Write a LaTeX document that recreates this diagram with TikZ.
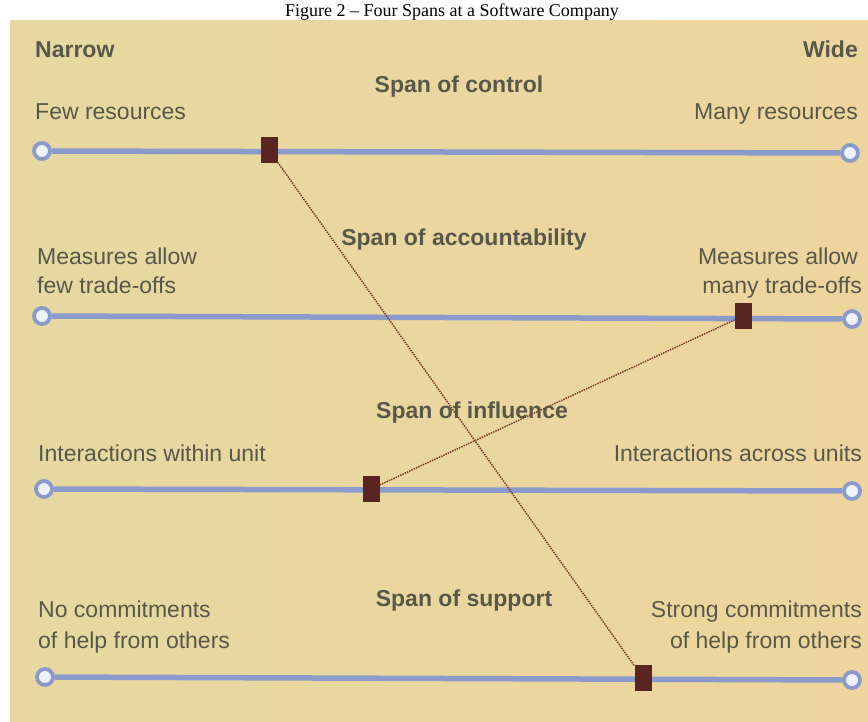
\documentclass[tikz,border=0pt]{standalone}
\usepackage{fontspec}
\setmainfont{Liberation Sans}
\newfontfamily\titlefont{Liberation Serif}
\definecolor{panelL}{HTML}{E6D8A0}
\definecolor{panelR}{HTML}{EED59E}
\definecolor{trackc}{HTML}{8A9BCB}
\definecolor{dotc}{HTML}{EEF2FF}
\definecolor{markc}{HTML}{5A2420}
\definecolor{connc}{HTML}{80402F}
\definecolor{txtc}{HTML}{58584A}
\tikzset{
  lbl/.style={text=txtc, font=\fontsize{23}{28}\selectfont, inner sep=0pt},
  head/.style={text=txtc, font=\fontsize{23}{28}\selectfont\bfseries, inner sep=0pt},
  endpt/.style={circle, draw=trackc, line width=3.8pt, fill=dotc, minimum size=16pt, inner sep=0pt},
  track/.style={draw=trackc, line width=5.5pt},
  marker/.style={rectangle, fill=markc, minimum width=17pt, minimum height=26pt, inner sep=0pt},
  conn/.style={draw=connc, line width=1.5pt, densely dotted}
}
\begin{document}
\begin{tikzpicture}[x=1pt, y=-1pt]
\useasboundingbox (0,0) rectangle (868,721);
\fill[white] (0,0) rectangle (868,721);
\shade[left color=panelL, right color=panelR] (10,20) rectangle (868,721);
\node[anchor=base, inner sep=0pt, font=\titlefont\fontsize{18}{22}\selectfont] (title) at (452,16) {Figure 2 – Four Spans at a Software Company};

% header
\node[head, anchor=base west] (narrow) at (35,57) {Narrow};
\node[head, anchor=base east] (wide) at (858,57) {Wide};

% span of control
\node[head, anchor=base] (h1) at (459,92) {Span of control};
\node[lbl, anchor=base west] (l1) at (35,119) {Few resources};
\node[lbl, anchor=base east] (r1) at (858,119) {Many resources};
\node[endpt] (a1) at (42,151) {};
\node[endpt] (b1) at (850,153) {};
\draw[track] (a1) -- (b1);
\node[marker] (m1) at (269,150) {};

% span of accountability
\node[head, anchor=base] (h2) at (464,245) {Span of accountability};
\node[lbl, anchor=base west] (l2a) at (37,264) {Measures allow};
\node[lbl, anchor=base west] (l2b) at (37,293) {few trade-offs};
\node[lbl, anchor=base east] (r2a) at (858,264) {Measures allow};
\node[lbl, anchor=base east] (r2b) at (862,293) {many trade-offs};
\node[endpt] (a2) at (42,316) {};
\node[endpt] (b2) at (852,319) {};
\draw[track] (a2) -- (b2);
\node[marker] (m2) at (743,316) {};

% span of influence
\node[head, anchor=base] (h3) at (472,418) {Span of influence};
\node[lbl, anchor=base west] (l3) at (38,461) {Interactions within unit};
\node[lbl, anchor=base east] (r3) at (862,461) {Interactions across units};
\node[endpt] (a3) at (44,489) {};
\node[endpt] (b3) at (852,491) {};
\draw[track] (a3) -- (b3);
\node[marker] (m3) at (371,489) {};

% span of support
\node[head, anchor=base] (h4) at (464,606) {Span of support};
\node[lbl, anchor=base west] (l4a) at (38,617) {No commitments};
\node[lbl, anchor=base west] (l4b) at (38,648) {of help from others};
\node[lbl, anchor=base east] (r4a) at (862,617) {Strong commitments};
\node[lbl, anchor=base east] (r4b) at (862,648) {of help from others};
\node[endpt] (a4) at (45,677) {};
\node[endpt] (b4) at (852,680) {};
\draw[track] (a4) -- (b4);
\node[marker] (m4) at (643,678) {};

% connectors
\draw[conn] (m1) -- (m4);
\draw[conn] (m3) -- (m2);
\end{tikzpicture}
\end{document}
